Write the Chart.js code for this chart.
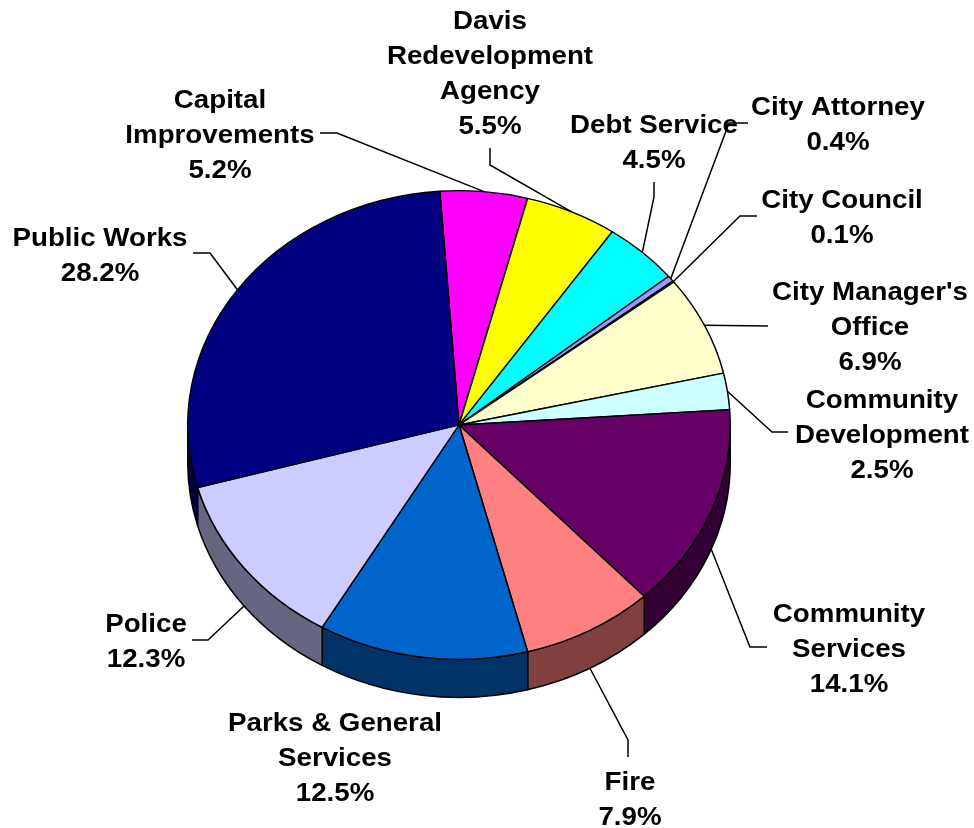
<!DOCTYPE html>
<html>
<head>
<meta charset="utf-8">
<script src="https://cdn.jsdelivr.net/npm/chart.js@4.4.1/dist/chart.umd.min.js"></script>
<style>
  html, body { margin: 0; padding: 0; background: #ffffff; }
  #wrap { width: 974px; height: 828px; position: relative; }
</style>
</head>
<body>
<div id="wrap"><canvas id="c" width="974" height="828"></canvas></div>
<script>
// ---- data ----
const categories = [
  ["Capital", "Improvements"],
  ["Davis", "Redevelopment", "Agency"],
  ["Debt Service"],
  ["City Attorney"],
  ["City Council"],
  ["City Manager's", "Office"],
  ["Community", "Development"],
  ["Community", "Services"],
  ["Fire"],
  ["Parks & General", "Services"],
  ["Police"],
  ["Public Works"]
];
const shares = [5.2, 5.5, 4.5, 0.4, 0.1, 6.9, 2.5, 14.1, 7.9, 12.5, 12.3, 28.2];
const sliceColors = ["#FF00FF", "#FFFF00", "#00FFFF", "#9999FF", "#993366", "#FFFFCC",
                     "#CCFFFF", "#660066", "#FF8080", "#0066CC", "#CCCCFF", "#000080"];

// ---- layout (label text positions and leader-line elbows) ----
const labelAt = [[220, 108], [490, 29], [654, 133], [838, 115], [842, 208], [870, 300],
                 [882, 408], [849, 622], [630, 790], [335, 731], [146, 632], [100, 246]];
const leaderPts = [
  [[337, 133], [320, 133]],
  [[490, 165], [490, 148]],
  [[654, 197], [654, 182]],
  [[729, 123], [748, 123]],
  [[740, 216], [757, 216]],
  [[768, 326]],
  [[772, 432], [788, 432]],
  [[750, 647], [767, 647]],
  [[628, 740], [628, 757]],
  null,
  [[208, 640], [192, 640]],
  [[210, 253], [193, 253]]
];
const TILT = 235 / 272;
const DEPTH = 38;
const LINE_H = 35;

function darken(hex, f) {
  const n = parseInt(hex.slice(1), 16);
  const r = Math.round(((n >> 16) & 255) * f), g = Math.round(((n >> 8) & 255) * f), b = Math.round((n & 255) * f);
  return `rgb(${r},${g},${b})`;
}

const pie3d = {
  id: 'pie3d',
  beforeDatasetsDraw(chart) {
    const ctx = chart.ctx;
    const meta = chart.getDatasetMeta(0);
    const a0 = meta.data[0];
    const cx = a0.x, cy = a0.y, r = a0.outerRadius, ry = r * TILT;
    ctx.save();
    ctx.lineWidth = 1.5;
    ctx.strokeStyle = '#000';
    ctx.lineJoin = 'round';
    meta.data.forEach((arc, i) => {
      const s = Math.max(arc.startAngle, 0), e = Math.min(arc.endAngle, Math.PI);
      if (e <= s) return;
      ctx.beginPath();
      ctx.ellipse(cx, cy, r, ry, 0, s, e, false);
      ctx.ellipse(cx, cy + DEPTH, r, ry, 0, e, s, true);
      ctx.closePath();
      ctx.fillStyle = darken(sliceColors[i], 0.5);
      ctx.fill();
      ctx.stroke();
    });
    ctx.restore();
    ctx.save();
    ctx.translate(cx, cy);
    ctx.scale(1, TILT);
    ctx.translate(-cx, -cy);
  },
  afterDatasetsDraw(chart) {
    chart.ctx.restore();
  },
  afterDraw(chart) {
    const ctx = chart.ctx;
    const meta = chart.getDatasetMeta(0);
    ctx.save();
    // leader lines
    ctx.strokeStyle = '#000';
    ctx.lineWidth = 1.5;
    meta.data.forEach((arc, i) => {
      const pts = leaderPts[i];
      if (!pts) return;
      const mid = (arc.startAngle + arc.endAngle) / 2;
      let ax = arc.x + arc.outerRadius * Math.cos(mid);
      let ay = arc.y + arc.outerRadius * TILT * Math.sin(mid);
      const m = ((mid % (2 * Math.PI)) + 2 * Math.PI) % (2 * Math.PI);
      if (m > 0 && m < Math.PI) ay += DEPTH;
      ctx.beginPath();
      ctx.moveTo(ax, ay);
      pts.forEach(p => ctx.lineTo(p[0], p[1]));
      ctx.stroke();
    });
    // labels
    ctx.fillStyle = '#000';
    ctx.font = 'bold 26px "Liberation Sans", Arial, sans-serif';
    ctx.textAlign = 'center';
    ctx.textBaseline = 'alphabetic';
    categories.forEach((lines, i) => {
      const all = lines.concat([shares[i].toFixed(1) + '%']);
      const [lx, ly] = labelAt[i];
      all.forEach((t, j) => {
        ctx.save();
        ctx.translate(lx, ly + j * LINE_H);
        ctx.scale(1.065, 1);
        ctx.fillText(t, 0, 0);
        ctx.restore();
      });
    });
    ctx.restore();
  }
};

new Chart(document.getElementById('c'), {
  type: 'pie',
  data: {
    labels: categories.map(l => l.join(' ')),
    datasets: [{
      data: shares,
      backgroundColor: sliceColors,
      borderColor: '#000',
      borderWidth: 1.5
    }]
  },
  options: {
    responsive: false,
    animation: false,
    rotation: -4.05,
    layout: { padding: { left: 187, right: 243, top: 153, bottom: 131 } },
    plugins: { legend: { display: false }, tooltip: { enabled: false } }
  },
  plugins: [pie3d]
});
</script>
</body>
</html>
